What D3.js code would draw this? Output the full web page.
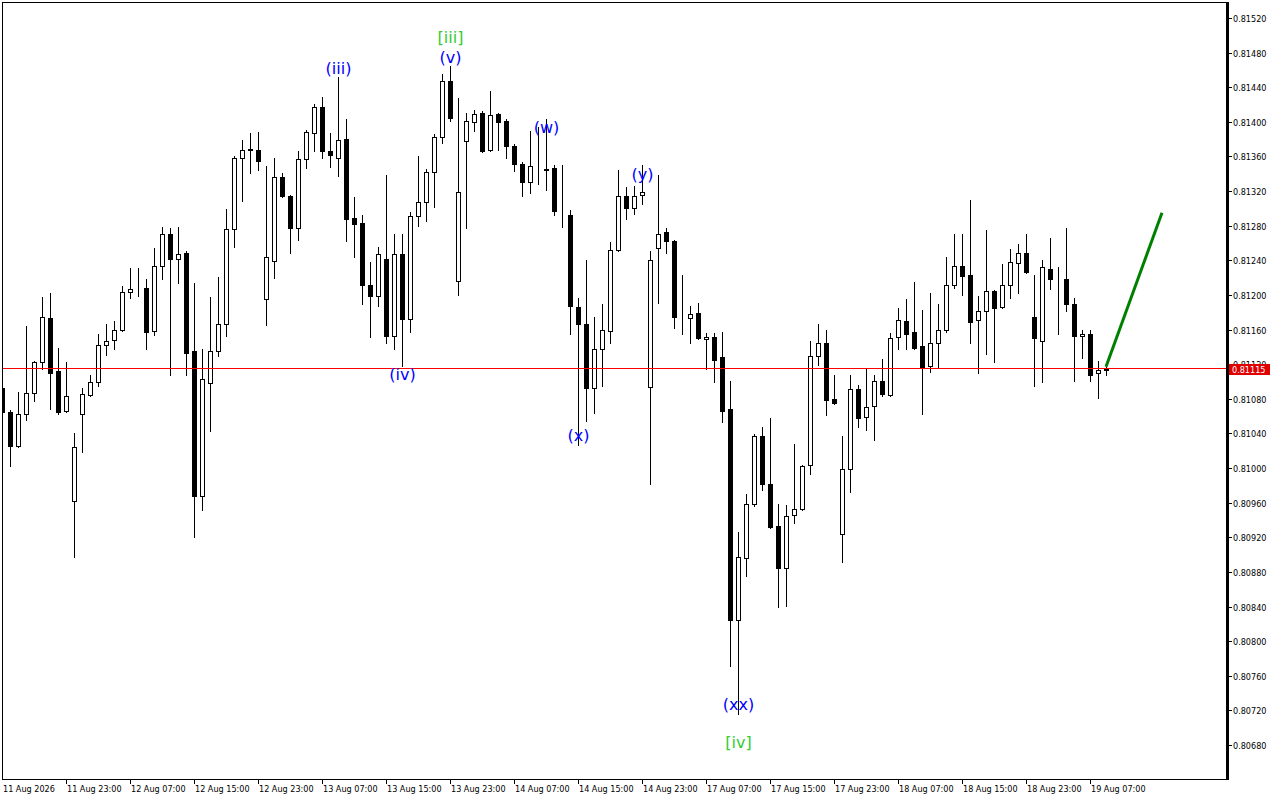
<!DOCTYPE html>
<html><head><meta charset="utf-8">
<script src="https://cdn.jsdelivr.net/npm/d3@7"></script>
<style>
html,body{margin:0;padding:0;background:#fff;overflow:hidden}
svg{display:block}
.ax{font-family:"DejaVu Sans Condensed","DejaVu Sans",sans-serif;font-stretch:condensed;font-size:9px;fill:#000}
.wave{font-family:"DejaVu Sans",sans-serif;font-size:16px}
</style></head>
<body><svg id="c" width="1280" height="800"></svg>
<script>
// ---- DATA (H1 bars, 11 Aug 15:00 .. 19 Aug 09:00) ----
const opens = [0.81093,0.81065,0.81026,0.81063,0.81087,0.81122,0.81173,0.81112,0.81066,0.80962,
0.81063,0.81084,0.81099,0.81142,0.81148,0.81159,0.81203,0.81207,0.81208,0.81158,
0.81233,0.81270,0.81241,0.81249,0.81135,0.80968,0.81098,0.81135,0.81166,0.81276,
0.81358,0.81369,0.81368,0.81195,0.81239,0.81336,0.81314,0.81277,0.81357,0.81387,
0.81417,0.81366,0.81358,0.81380,0.81289,0.81283,0.81211,0.81199,0.81242,0.81152,
0.81247,0.81172,0.81291,0.81307,0.81342,0.81382,0.81447,0.81216,0.81378,0.81400,
0.81410,0.81368,0.81409,0.81401,0.81372,0.81351,0.81330,0.81346,0.81345,0.81347,
0.81294,0.81292,0.81186,0.81167,0.81093,0.81137,0.81158,0.81252,0.81314,0.81301,
0.81315,0.81094,0.81254,0.81273,0.81262,0.81174,0.81173,0.81179,0.81149,0.81151,
0.81128,0.81068,0.80824,0.80896,0.80958,0.81037,0.80981,0.80933,0.80885,0.80946,
0.80953,0.81004,0.81129,0.81144,0.81080,0.80924,0.80999,0.81091,0.81059,0.81072,
0.81100,0.81084,0.81151,0.81170,0.81157,0.81141,0.81118,0.81144,0.81159,0.81211,
0.81234,0.81223,0.81171,0.81181,0.81205,0.81186,0.81211,0.81237,0.81248,0.81174,
0.81147,0.81230,0.81218,0.81218,0.81189,0.81152,0.81155,0.81110,0.81113];
const highs = [0.81102,0.81067,0.81088,0.81164,0.81124,0.81198,0.81202,0.81139,0.81122,0.81041,
0.81093,0.81108,0.81155,0.81166,0.81170,0.81210,0.81231,0.81231,0.81219,0.81254,
0.81279,0.81277,0.81279,0.81251,0.81214,0.81138,0.81198,0.81221,0.81299,0.81360,
0.81379,0.81387,0.81388,0.81349,0.81358,0.81341,0.81316,0.81366,0.81391,0.81421,
0.81429,0.81387,0.81452,0.81403,0.81313,0.81292,0.81238,0.81255,0.81339,0.81271,
0.81271,0.81296,0.81360,0.81346,0.81386,0.81455,0.81464,0.81428,0.81410,0.81414,
0.81413,0.81436,0.81410,0.81403,0.81374,0.81354,0.81390,0.81394,0.81403,0.81350,
0.81350,0.81298,0.81196,0.81240,0.81174,0.81189,0.81261,0.81344,0.81325,0.81326,
0.81350,0.81251,0.81339,0.81277,0.81263,0.81223,0.81187,0.81191,0.81156,0.81156,
0.81157,0.81100,0.80926,0.80970,0.81039,0.81048,0.81058,0.80959,0.80957,0.81028,
0.81004,0.81147,0.81167,0.81160,0.81108,0.81037,0.81108,0.81096,0.81115,0.81108,
0.81126,0.81156,0.81185,0.81195,0.81215,0.81183,0.81202,0.81190,0.81244,0.81271,
0.81271,0.81310,0.81199,0.81275,0.81206,0.81236,0.81253,0.81259,0.81271,0.81223,
0.81240,0.81266,0.81232,0.81277,0.81197,0.81160,0.81159,0.81124,0.81117];
const lows = [0.81058,0.81002,0.81024,0.81056,0.81077,0.81114,0.81068,0.81063,0.81065,0.80897,
0.81018,0.81083,0.81095,0.81131,0.81137,0.81158,0.81197,0.81199,0.81138,0.81154,
0.81218,0.81108,0.81214,0.81107,0.80920,0.80952,0.81043,0.81130,0.81153,0.81255,
0.81309,0.81341,0.81344,0.81165,0.81220,0.81313,0.81249,0.81263,0.81347,0.81366,
0.81358,0.81348,0.81338,0.81262,0.81244,0.81189,0.81151,0.81187,0.81144,0.81137,
0.81118,0.81157,0.81280,0.81286,0.81302,0.81376,0.81401,0.81200,0.81277,0.81389,
0.81365,0.81366,0.81367,0.81358,0.81343,0.81314,0.81318,0.81328,0.81321,0.81292,
0.81278,0.81155,0.81027,0.81054,0.81064,0.81095,0.81145,0.81251,0.81288,0.81294,
0.81305,0.80982,0.81191,0.81249,0.81162,0.81155,0.81144,0.81149,0.81115,0.81099,
0.81053,0.80771,0.80716,0.80875,0.80956,0.80975,0.80931,0.80840,0.80841,0.80936,
0.80952,0.80993,0.81119,0.81061,0.81074,0.80892,0.80972,0.81047,0.81044,0.81032,
0.81083,0.81083,0.81138,0.81137,0.81138,0.81063,0.81111,0.81117,0.81157,0.81208,
0.81200,0.81145,0.81110,0.81132,0.81122,0.81185,0.81197,0.81202,0.81225,0.81095,
0.81099,0.81207,0.81155,0.81181,0.81100,0.81127,0.81100,0.81081,0.81107];
const closes = [0.81065,0.81026,0.81063,0.81087,0.81122,0.81174,0.81110,0.81065,0.81083,0.81024,
0.81085,0.81099,0.81142,0.81147,0.81159,0.81203,0.81207,0.81207,0.81157,0.81233,
0.81270,0.81241,0.81247,0.81133,0.80968,0.81103,0.81135,0.81166,0.81276,0.81358,
0.81368,0.81368,0.81355,0.81244,0.81336,0.81314,0.81277,0.81357,0.81388,0.81417,
0.81366,0.81362,0.81379,0.81288,0.81282,0.81211,0.81199,0.81247,0.81153,0.81247,
0.81172,0.81291,0.81307,0.81342,0.81383,0.81447,0.81405,0.81319,0.81401,0.81409,
0.81366,0.81408,0.81400,0.81372,0.81351,0.81331,0.81349,0.81346,0.81344,0.81297,
0.81294,0.81187,0.81166,0.81093,0.81137,0.81159,0.81252,0.81314,0.81301,0.81314,
0.81319,0.81240,0.81271,0.81262,0.81174,0.81174,0.81178,0.81150,0.81151,0.81125,
0.81066,0.80824,0.80897,0.80959,0.81037,0.80981,0.80932,0.80885,0.80945,0.80953,
0.81002,0.81129,0.81145,0.81079,0.81075,0.80999,0.81091,0.81058,0.81070,0.81100,
0.81085,0.81150,0.81171,0.81155,0.81139,0.81116,0.81144,0.81159,0.81211,0.81234,
0.81222,0.81169,0.81181,0.81205,0.81185,0.81211,0.81238,0.81248,0.81227,0.81150,
0.81232,0.81218,0.81218,0.81189,0.81152,0.81155,0.81108,0.81113,0.81115];

const priceTicks = [0.80680,0.80720,0.80760,0.80800,0.80840,0.80880,0.80920,0.80960,0.81000,0.81040,
0.81080,0.81120,0.81160,0.81200,0.81240,0.81280,0.81320,0.81360,0.81400,0.81440,0.81480,0.81520];
const timeLabels = ["11 Aug 2026","11 Aug 23:00","12 Aug 07:00","12 Aug 15:00","12 Aug 23:00",
"13 Aug 07:00","13 Aug 15:00","13 Aug 23:00","14 Aug 07:00","14 Aug 15:00","14 Aug 23:00",
"17 Aug 07:00","17 Aug 15:00","17 Aug 23:00","18 Aug 07:00","18 Aug 15:00","18 Aug 23:00","19 Aug 07:00"];
const timeLabelBars = [0,8,16,24,32,40,48,56,64,72,80,88,96,104,112,120,128,136];
const currentPrice = 0.81115;
const waveText  = ["(iii)","[iii]","(v)","(iv)","(w)","(x)","(y)","(xx)","[iv]"];
const waveBar   = [42,56,56,50,68,72,80,92,92];
const wavePrice = [0.81462,0.81497,0.81474,0.81108,0.81393,0.81038,0.81339,0.80727,0.80683];
const waveMajor = [false,true,false,false,false,false,false,false,true];
const forecastBars  = [138,145];
const forecastPrice = [0.81117,0.81295];

// ---- CHART ----
(function(){
const svg = d3.select("#c");
const W = 1280, H = 800;
const pL = 2, pR = 1227, pT = 2, pB = 779;
const x = d3.scaleLinear().domain([0,153]).range([2, 2+8*153]);
const y = d3.scaleLinear().domain([0.80680,0.81520]).range([745,18]);
const col = k => Math.round(x(k));

svg.append("rect").attr("width",W).attr("height",H).attr("fill","#fff");
svg.append("defs").append("clipPath").attr("id","plot")
  .append("rect").attr("x",pL+1).attr("y",pT+1).attr("width",pR-pL-2).attr("height",pB-pT-1);

const plot = svg.append("g").attr("clip-path","url(#plot)");

const bars = d3.range(opens.length).map(i=>({i,o:opens[i],h:highs[i],l:lows[i],c:closes[i]}));
const g = plot.append("g");
bars.forEach(b=>{
  const c = col(b.i);
  g.append("line").attr("x1",c+0.5).attr("x2",c+0.5)
    .attr("y1",Math.round(y(b.h))).attr("y2",Math.round(y(b.l))+1)
    .attr("stroke","#000").attr("stroke-width",1);
  const yt = Math.round(y(Math.max(b.o,b.c))), yb = Math.round(y(Math.min(b.o,b.c)));
  const bull = b.c >= b.o;
  g.append("rect").attr("x",c-2+0.5).attr("y",yt+0.5).attr("width",4).attr("height",Math.max(0,yb-yt))
    .attr("fill",bull?"#fff":"#000").attr("stroke","#000").attr("stroke-width",1);
});

// current price line (drawn over candles, like the reference)
const cpy = Math.round(y(currentPrice)) - 0.5;
plot.append("rect").attr("x",pL).attr("y",cpy-0.5).attr("width",pR-pL).attr("height",1)
  .attr("fill","#ff0000").attr("shape-rendering","crispEdges");

// forecast line
plot.append("line")
  .attr("x1",x(forecastBars[0])).attr("y1",y(forecastPrice[0]))
  .attr("x2",x(forecastBars[1])).attr("y2",y(forecastPrice[1]))
  .attr("stroke","#008000").attr("stroke-width",3);

// wave labels
waveText.forEach((t,i)=>{
  plot.append("text").attr("class","wave")
    .attr("x",col(waveBar[i])+0.5).attr("y",y(wavePrice[i]))
    .attr("text-anchor","middle").attr("dominant-baseline","central")
    .attr("fill",waveMajor[i]?"#32cd32":"#0000ff").text(t);
});

// frame
svg.append("line").attr("x1",pL+0.5).attr("x2",pL+0.5).attr("y1",pT).attr("y2",pB+1).attr("stroke","#000");
svg.append("line").attr("x1",pL).attr("x2",pR).attr("y1",pT+0.5).attr("y2",pT+0.5).attr("stroke","#000");
svg.append("line").attr("x1",pL).attr("x2",pR).attr("y1",pB+0.5).attr("y2",pB+0.5).attr("stroke","#000");
svg.append("rect").attr("x",pR-1).attr("y",pT).attr("width",3).attr("height",pB-pT+1).attr("fill","#000");

// price axis
const pa = svg.append("g");
priceTicks.forEach(p=>{
  const yy = Math.round(y(p))+0.5;
  pa.append("line").attr("x1",pR+2).attr("x2",pR+5).attr("y1",yy).attr("y2",yy).attr("stroke","#000");
  // the tick label hidden behind the current-price tag is clipped to its visible sliver
  const t = pa.append("text").attr("class","ax").attr("x",pR+6).attr("y",yy).attr("dominant-baseline","central").text(p.toFixed(5));
  if (Math.abs(y(p) - y(currentPrice)) < 8) {
    const id = "clipTick";
    svg.select("defs").append("clipPath").attr("id",id).append("rect")
      .attr("x",pR+2).attr("y",yy-8).attr("width",50).attr("height",Math.max(0, Math.round(y(currentPrice))-5-(yy-8)));
    t.attr("clip-path","url(#"+id+")");
  }
});
// current price tag
const cy = Math.round(y(currentPrice));
pa.append("rect").attr("x",pR+2).attr("y",cy-5).attr("width",41).attr("height",11).attr("fill","#e00000");
pa.append("text").attr("class","ax").attr("x",pR+5).attr("y",cy+0.5).attr("dominant-baseline","central")
  .style("fill","#fff").text(currentPrice.toFixed(5));

// time axis
const ta = svg.append("g");
timeLabels.forEach((t,i)=>{
  const c = col(timeLabelBars[i]);
  if(i>0) ta.append("line").attr("x1",c+0.5).attr("x2",c+0.5).attr("y1",pB+1).attr("y2",pB+5).attr("stroke","#000");
  ta.append("text").attr("class","ax").attr("x",c+1).attr("y",792).text(t);
});
})();
</script></body></html>
